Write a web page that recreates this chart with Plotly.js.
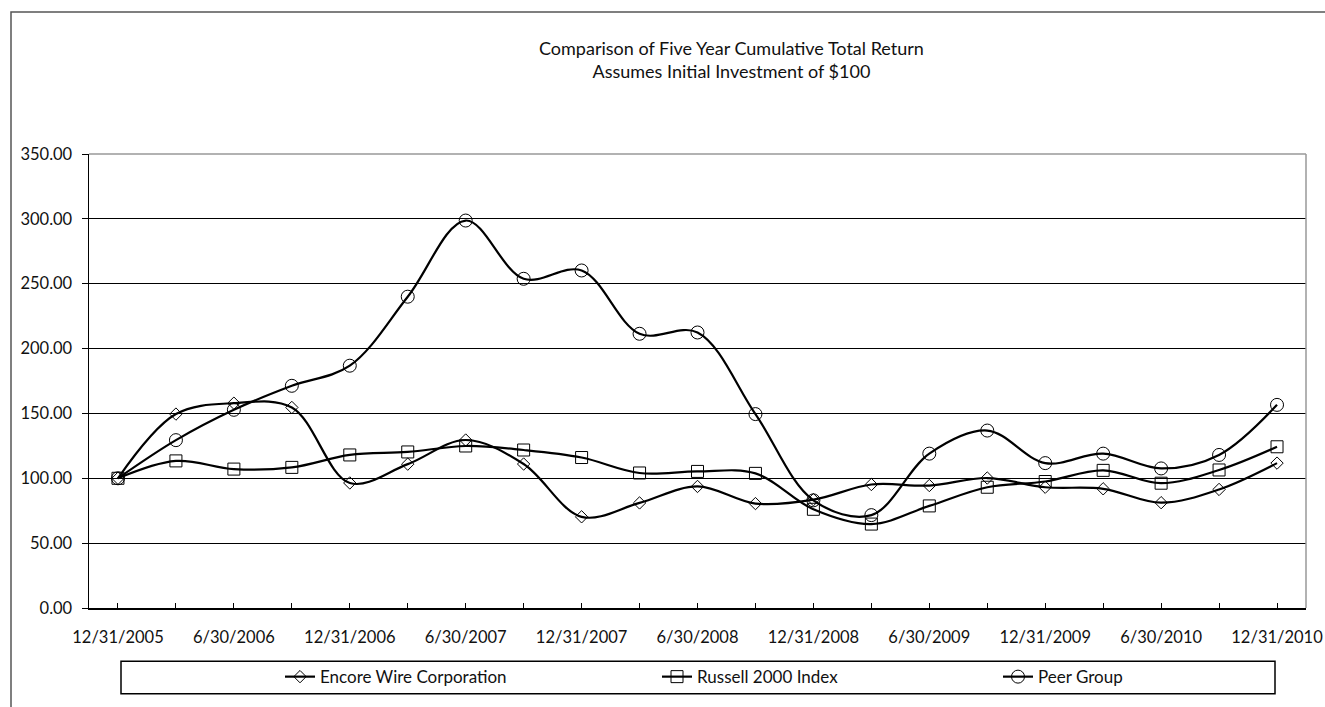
<!DOCTYPE html>
<html>
<head>
<meta charset="utf-8">
<script src="https://cdn.plot.ly/plotly-3.0.1.min.js"></script>
<style>
html,body{margin:0;padding:0;background:#fff;}
#chart{width:1325px;height:707px;}
</style>
</head>
<body>
<div id="chart"></div>
<script>
// Quarterly dates
var dates = ["12/31/2005","3/31/2006","6/30/2006","9/30/2006","12/31/2006","3/31/2007","6/30/2007","9/30/2007","12/31/2007","3/31/2008","6/30/2008","9/30/2008","12/31/2008","3/31/2009","6/30/2009","9/30/2009","12/31/2009","3/31/2010","6/30/2010","9/30/2010","12/31/2010"];
var tickLabels = ["12/31/2005","","6/30/2006","","12/31/2006","","6/30/2007","","12/31/2007","","6/30/2008","","12/31/2008","","6/30/2009","","12/31/2009","","6/30/2010","","12/31/2010"];

var encore  = [100,149.5,157.9,154.6,96.4,110.9,129.5,111,70.3,81,93.7,80.5,83.5,95.2,94.4,100.2,93.1,91.9,81.2,91.4,111.7];
var russell = [100,113.4,107.1,108.4,118,120.3,124.9,121.8,116,104.1,105.3,103.8,76.1,64.7,78.7,93.1,97.5,106.1,96.2,106.4,124.3];
var peer    = [100,129.4,152.8,171.3,186.8,240,298.7,253.8,260.2,211.4,212.4,149.5,83,71.6,119,136.8,111.7,119,107.6,118,156.6];

var seriesNames = ["Encore Wire Corporation","Russell 2000 Index","Peer Group"];
var yTicks = [0,50,100,150,200,250,300,350];

var FONT = "Lato, Carlito, Calibri, 'Open Sans', sans-serif";

function trace(y, name, sym, size, legendId){
  return {
    x: dates, y: y, name: name, type: 'scatter', mode: 'lines+markers',
    line: {color: '#000', width: 2.2, shape: 'spline', smoothing: 1},
    marker: {symbol: sym, size: size, color: '#000', line: {color: '#000', width: 1}},
    legend: legendId
  };
}

var data = [
  trace(encore, seriesNames[0], 'diamond-open', 9.5, 'legend'),
  trace(russell, seriesNames[1], 'square-open', 12, 'legend2'),
  trace(peer, seriesNames[2], 'circle-open', 13, 'legend3')
];

var W = 1325, H = 707, L = 89, R = 19, T = 154, B = 93;
var pw = W - L - R, ph = H - T - B;
function px(x){ return (x - L) / pw; }
function py(y){ return (H - B - y) / ph; }

function legendAt(xpix){
  return {x: px(xpix), xanchor: 'left', y: py(684), yanchor: 'middle',
    orientation: 'h', bgcolor: 'rgba(0,0,0,0)', borderwidth: 0,
    font: {family: FONT, size: 17, color: '#111'}, itemwidth: 30, tracegroupgap: 0};
}

var layout = {
  width: W, height: H,
  margin: {l: L, r: R, t: T, b: B, pad: 0},
  paper_bgcolor: '#fff', plot_bgcolor: '#fff',
  font: {family: FONT, color: '#111'},
  showlegend: true,
  legend: legendAt(280),
  legend2: legendAt(657),
  legend3: legendAt(998),
  xaxis: {
    type: 'category', range: [-0.5, 20.5],
    tickmode: 'array', tickvals: dates, ticktext: tickLabels,
    ticks: 'inside', ticklen: 5, tickcolor: '#000', tickwidth: 1,
    showline: true, linecolor: '#000', linewidth: 1.5,
    showgrid: false, zeroline: false,
    tickfont: {family: FONT, size: 16.5, color: '#111'},
    ticklabelstandoff: 14, fixedrange: true
  },
  yaxis: {
    range: [0, 350], tickmode: 'array', tickvals: yTicks,
    tickformat: '.2f',
    ticks: 'outside', ticklen: 6, tickcolor: '#000', tickwidth: 1,
    showline: true, linecolor: '#000', linewidth: 1.5,
    showgrid: true, gridcolor: '#000', gridwidth: 1,
    zeroline: false,
    tickfont: {family: FONT, size: 16.5, color: '#111'},
    ticklabelstandoff: 6, fixedrange: true
  },
  shapes: [
    {type: 'rect', xref: 'paper', yref: 'paper', x0: px(11), x1: px(1340), y0: py(730), y1: py(10),
     line: {color: '#555', width: 1.5}, layer: 'below'},
    {type: 'line', xref: 'paper', yref: 'paper', x0: 0, x1: 1, y0: 1, y1: 1, line: {color: '#999', width: 1.5}, layer: 'above'},
    {type: 'line', xref: 'paper', yref: 'paper', x0: 1, x1: 1, y0: 0, y1: 1, line: {color: '#999', width: 1.5}, layer: 'above'},
    {type: 'rect', xref: 'paper', yref: 'paper', x0: px(121), x1: px(1275), y0: py(701), y1: py(668),
     line: {color: '#000', width: 1.5}, layer: 'below'}
  ],
  annotations: [
    {xref: 'paper', yref: 'paper', x: px(731), y: py(58), xanchor: 'center', yanchor: 'middle',
     text: 'Comparison of Five Year Cumulative Total Return<br>Assumes Initial Investment of $100',
     showarrow: false, font: {family: FONT, size: 18, color: '#111'}, align: 'center'}
  ]
};

Plotly.newPlot('chart', data, layout, {displayModeBar: false, staticPlot: true});
</script>
</body>
</html>
